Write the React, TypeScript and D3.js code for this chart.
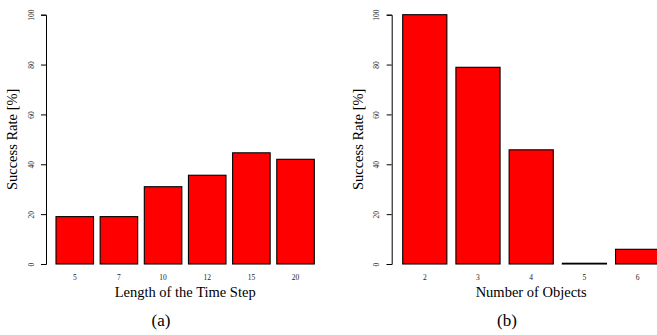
import React, { useRef, useEffect } from 'react';
import * as d3 from 'd3';

const stepLabels = ['5', '7', '10', '12', '15', '20'];
const stepValues = [19, 19, 31, 35.6, 44.6, 42];

const objectLabels = ['2', '3', '4', '5', '6'];
const objectValues = [100, 78.9, 45.8, 0.3, 5.9];

const yTicks = [0, 20, 40, 60, 80, 100];

const panels = [
  {
    labels: stepLabels,
    values: stepValues,
    axisX: 46,
    barRange: [56, 314.3],
    padding: 0.15,
    xTitle: 'Length of the Time Step',
    caption: '(a)',
    captionX: 161,
  },
  {
    labels: objectLabels,
    values: objectValues,
    axisX: 391.7,
    barRange: [402.7, 659.7],
    padding: 0.17,
    xTitle: 'Number of Objects',
    caption: '(b)',
    captionX: 507,
  },
];

const App = () => {
  const svgRef = useRef<SVGSVGElement>(null);

  useEffect(() => {
    const svg = d3.select(svgRef.current);
    svg.selectAll('*').remove();

    const font = '"Liberation Serif", "Times New Roman", serif';
    const yScale = d3.scaleLinear().domain([0, 100]).range([264, 14.7]);

    panels.forEach(p => {
      const g = svg.append('g');

      const xScale = d3
        .scaleBand()
        .domain(p.labels)
        .range(p.barRange as [number, number])
        .paddingInner(p.padding)
        .paddingOuter(0);

      // Bars
      g.selectAll('.bar')
        .data(p.values)
        .enter()
        .append('rect')
        .attr('x', (d, i) => xScale(p.labels[i])!)
        .attr('y', d => yScale(d))
        .attr('width', xScale.bandwidth())
        .attr('height', d => Math.max(0.5, yScale(0) - yScale(d)))
        .attr('fill', '#ff0000')
        .attr('stroke', '#000')
        .attr('stroke-width', 1.1);

      // Y axis
      const yAxis = d3.axisLeft(yScale).tickValues(yTicks).tickSize(5).tickFormat(d3.format('d'));
      const ya = g.append('g').attr('transform', `translate(${p.axisX},0)`).call(yAxis);
      ya.select('.domain').attr('stroke', '#000').attr('stroke-width', 1);
      ya.selectAll('line').attr('stroke', '#000');
      ya.selectAll('text')
        .attr('x', null)
        .attr('dy', null)
        .style('font-family', font)
        .style('font-size', '7.5px')
        .style('fill', '#222')
        .attr('text-anchor', 'middle')
        .attr('dominant-baseline', 'middle')
        .attr('transform', 'translate(-14,0) rotate(-90)');

      // X labels
      g.selectAll('.xl')
        .data(p.labels)
        .enter()
        .append('text')
        .attr('x', d => xScale(d)! + xScale.bandwidth() / 2)
        .attr('y', 278)
        .attr('text-anchor', 'middle')
        .attr('dominant-baseline', 'middle')
        .style('font-family', font)
        .style('font-size', '7.5px')
        .style('fill', '#222')
        .text(d => d);

      // Titles
      const [r0, r1] = p.barRange;
      g.append('text')
        .attr('x', (r0 + r1) / 2)
        .attr('y', 294)
        .attr('text-anchor', 'middle')
        .attr('dominant-baseline', 'middle')
        .style('font-family', font)
        .style('font-size', '14.5px')
        .text(p.xTitle);

      g.append('text')
        .attr('transform', `translate(${p.axisX - 32},${(yScale(0) + yScale(100)) / 2}) rotate(-90)`)
        .attr('text-anchor', 'middle')
        .attr('dominant-baseline', 'middle')
        .style('font-family', font)
        .style('font-size', '14.5px')
        .text('Success Rate [%]');

      g.append('text')
        .attr('x', p.captionX)
        .attr('y', 322)
        .attr('text-anchor', 'middle')
        .attr('dominant-baseline', 'middle')
        .style('font-family', font)
        .style('font-size', '17px')
        .text(p.caption);
    });
  }, []);

  return (
    <svg
      ref={svgRef}
      width={657}
      height={335}
      style={{ position: 'absolute', left: 0, top: 0, display: 'block', background: '#fff' }}
    />
  );
};

export default App;
